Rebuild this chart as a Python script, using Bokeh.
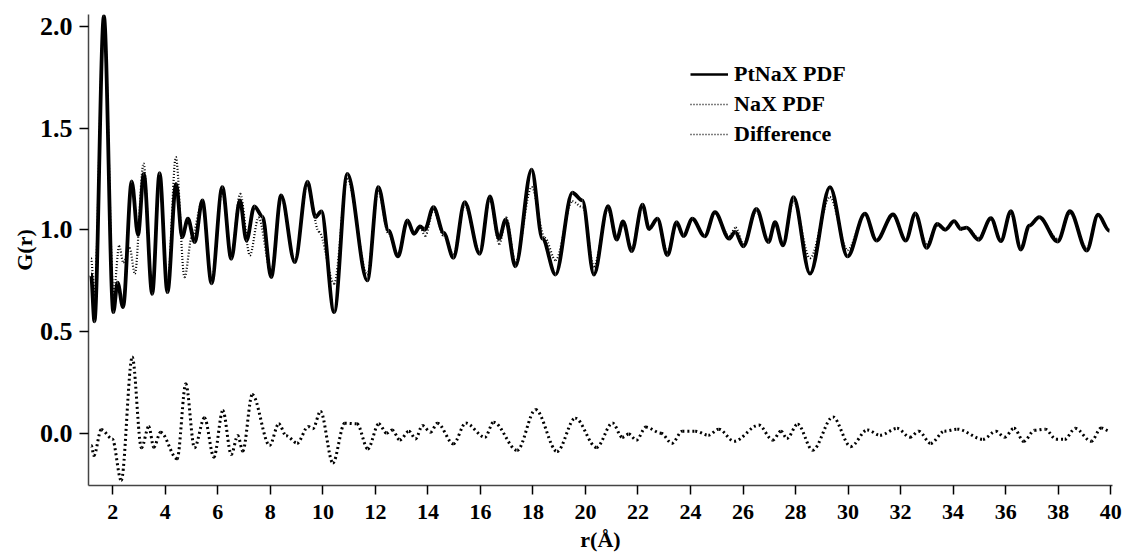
from bokeh.plotting import figure
from bokeh.models import (ColumnDataSource, Legend, LegendItem, FixedTicker,
                          PrintfTickFormatter, Range1d)
from bokeh.embed import file_html
from bokeh.resources import INLINE

# ---------------- data ----------------
ptnax_r = [1.17, 1.30, 1.66, 2.02, 2.18, 2.39, 2.72, 2.96, 3.18, 3.50, 3.78, 4.08,
           4.41, 4.64, 4.86, 5.12, 5.41, 5.76, 6.17, 6.51, 6.84, 7.09, 7.39, 7.70,
           8.03, 8.41, 8.93, 9.41, 9.72, 9.94, 10.43, 10.93, 11.69, 12.11, 12.50,
           12.86, 13.22, 13.47, 13.70, 13.88, 14.21, 14.60, 14.97, 15.40, 15.97,
           16.36, 16.71, 16.96, 17.33, 17.95, 18.36, 18.86, 19.50, 19.88, 20.32,
           20.86, 21.19, 21.43, 21.76, 22.17, 22.42, 22.74, 23.12, 23.47, 23.73,
           24.07, 24.54, 24.93, 25.47, 25.70, 26.01, 26.51, 26.97, 27.22, 27.52,
           27.92, 28.55, 29.31, 29.98, 30.64, 31.08, 31.71, 32.20, 32.56, 32.99,
           33.40, 33.70, 34.04, 34.29, 34.51, 34.97, 35.44, 35.82, 36.20, 36.58,
           36.90, 37.28, 37.98, 38.45, 39.09, 39.52, 39.95]
ptnax_g = [0.78, 0.55, 2.05, 0.595, 0.74, 0.62, 1.238, 0.975, 1.275, 0.685, 1.278, 0.693,
           1.226, 0.964, 1.054, 0.939, 1.144, 0.737, 1.21, 0.857, 1.144, 0.947, 1.115, 1.065,
           0.767, 1.169, 0.841, 1.236, 1.062, 1.09, 0.595, 1.275, 0.751, 1.21, 0.995,
           0.869, 1.046, 0.98, 1.016, 1.0, 1.111, 0.985, 0.862, 1.136, 0.882,
           1.164, 0.956, 1.05, 0.82, 1.295, 0.956, 0.78, 1.182, 1.144, 0.78,
           1.116, 0.952, 1.041, 0.895, 1.124, 1.005, 1.054, 0.874, 1.037, 0.969,
           1.054, 0.967, 1.087, 0.956, 0.99, 0.918, 1.103, 0.939, 1.037, 0.923,
           1.16, 0.784, 1.21, 0.869, 1.079, 0.947, 1.075, 0.947, 1.08, 0.911,
           1.029, 1.0, 1.042, 1.005, 1.01, 0.951, 1.057, 0.944, 1.091, 0.903,
           1.02, 1.062, 0.942, 1.091, 0.898, 1.074, 0.995]

nax_r = [1.17, 1.30, 1.66, 2.03, 2.24, 2.40, 2.64, 2.84, 3.17, 3.50, 3.78, 4.08,
         4.40, 4.73, 5.02, 5.41, 5.76, 6.17, 6.51, 6.85, 7.22, 7.55, 8.03, 8.41,
         8.93, 9.41, 9.85, 10.43, 10.93, 11.69, 12.11, 12.50, 12.86, 13.22, 13.47,
         13.70, 13.90, 14.21, 14.60, 14.97, 15.40, 15.97, 16.36, 16.72, 16.98,
         17.33, 17.95, 18.45, 18.86, 19.50, 19.90, 20.32, 20.86, 21.19, 21.43,
         21.76, 22.17, 22.42, 22.74, 23.12, 23.47, 23.73, 24.07, 24.54, 24.93,
         25.47, 25.72, 26.01, 26.51, 26.97, 27.22, 27.52, 27.92, 28.55, 29.31,
         29.98, 30.64, 31.08, 31.71, 32.20, 32.56, 32.99, 33.40, 33.70, 34.04,
         34.29, 34.51, 34.97, 35.44, 35.82, 36.20, 36.58, 36.90, 37.28, 37.98,
         38.45, 39.09, 39.52, 39.95]
nax_g = [0.86, 0.68, 2.04, 0.68, 0.92, 0.84, 0.91, 0.785, 1.325, 0.70, 1.26, 0.71,
         1.357, 0.767, 0.97, 1.14, 0.75, 1.19, 0.87, 1.177, 0.874, 1.06, 0.79, 1.16,
         0.85, 1.22, 0.99, 0.735, 1.25, 0.78, 1.19, 0.98, 0.88, 1.04, 0.98,
         1.01, 0.97, 1.10, 0.97, 0.88, 1.12, 0.89, 1.15, 0.93, 1.06,
         0.84, 1.21, 0.96, 0.85, 1.14, 1.11, 0.82, 1.10, 0.95, 1.03,
         0.91, 1.11, 1.0, 1.05, 0.89, 1.03, 0.97, 1.05, 0.97, 1.08,
         0.97, 1.01, 0.93, 1.09, 0.95, 1.03, 0.93, 1.14, 0.86, 1.16,
         0.90, 1.07, 0.95, 1.07, 0.95, 1.07, 0.93, 1.02, 1.0, 1.04,
         1.0, 1.01, 0.96, 1.05, 0.95, 1.08, 0.91, 1.02, 1.06, 0.955,
         1.08, 0.91, 1.07, 1.0]

diff_r = [1.18, 1.28, 1.56, 1.98, 2.32, 2.74, 3.09, 3.37, 3.56, 3.82, 4.45, 4.78,
          5.11, 5.49, 5.85, 6.19, 6.51, 6.76, 6.95, 7.31, 7.97, 8.32, 8.60, 9.02,
          9.44, 9.62, 9.91, 10.38, 10.83, 11.30, 11.71, 12.13, 12.43, 12.64, 12.93,
          13.28, 13.53, 13.79, 14.10, 14.36, 14.97, 15.44, 16.17, 16.50, 17.40,
          18.10, 18.92, 19.61, 20.42, 21.03, 21.40, 21.65, 21.94, 22.30, 22.88,
          23.29, 23.69, 24.18, 24.68, 25.08, 25.66, 26.60, 27.13, 27.45, 27.67,
          28.08, 28.65, 29.42, 30.10, 30.73, 31.22, 31.87, 32.36, 32.69, 33.15,
          33.67, 34.16, 35.14, 35.63, 35.96, 36.32, 36.69, 37.10, 37.51, 37.92,
          38.25, 38.65, 39.26, 39.64, 39.96]
diff_g = [-0.06, -0.11, 0.018, -0.028, -0.232, 0.374, -0.072, 0.033, -0.069, 0.005, -0.126, 0.243,
          -0.072, 0.076, -0.118, 0.112, -0.105, -0.011, -0.088, 0.19, -0.06, 0.046, -0.012, -0.049,
          0.033, 0.022, 0.107, -0.146, 0.049, 0.046, -0.077, 0.046, 0.0, 0.016, -0.033,
          0.01, -0.028, 0.038, 0.005, 0.049, -0.052, 0.05, -0.02, 0.054, -0.084,
          0.116, -0.09, 0.074, -0.07, 0.05, -0.02, -0.004, -0.034, 0.03, 0.0,
          -0.05, 0.01, 0.01, -0.01, 0.02, -0.04, 0.04, -0.034, 0.01, -0.026,
          0.044, -0.084, 0.08, -0.066, 0.016, -0.01, 0.024, -0.02, 0.01, -0.05,
          0.01, 0.02, -0.03, 0.01, -0.02, 0.024, -0.04, 0.014, 0.02, -0.03,
          -0.03, 0.024, -0.04, 0.026, 0.01]

x_ticks = [2, 4, 6, 8, 10, 12, 14, 16, 18, 20, 22, 24, 26, 28, 30, 32, 34, 36, 38, 40]
y_ticks = [0.0, 0.5, 1.0, 1.5, 2.0]
series_labels = ["PtNaX PDF", "NaX PDF", "Difference"]

FONT = "Liberation Serif"

p = figure(width=1122, height=559, output_backend="svg", toolbar_location=None,
           x_range=Range1d(1.074, 40.07), y_range=Range1d(-0.257, 2.058),
           min_border_left=88, min_border_right=10, min_border_top=14,
           min_border_bottom=74)
p.outline_line_color = None
p.grid.grid_line_color = None
p.background_fill_color = "white"
p.border_fill_color = "white"


def smooth_curve(xs, ys, **kw):
    """Draw a smooth curve through the read points (horizontal tangents at nodes)."""
    x0, x1 = xs[:-1], xs[1:]
    y0, y1 = ys[:-1], ys[1:]
    cx0 = [a + (b - a) / 3.0 for a, b in zip(x0, x1)]
    cx1 = [b - (b - a) / 3.0 for a, b in zip(x0, x1)]
    src = ColumnDataSource(dict(x0=x0, y0=y0, x1=x1, y1=y1,
                                cx0=cx0, cy0=y0, cx1=cx1, cy1=y1))
    return p.bezier(x0="x0", y0="y0", x1="x1", y1="y1", cx0="cx0", cy0="cy0",
                    cx1="cx1", cy1="cy1", source=src, **kw)


smooth_curve(diff_r, diff_g, line_color="black", line_width=3, line_dash="2 3")
smooth_curve(nax_r, nax_g, line_color="black", line_width=2.2, line_dash="1 2")
smooth_curve(ptnax_r, ptnax_g, line_color="black", line_width=3.8)

# legend-only renderers (placed outside the visible x range)
l1 = p.line(x=[0.0, 0.5], y=[-1.0, -1.0], line_color="black", line_width=2.5)
l2 = p.line(x=[0.0, 0.5], y=[-1.0, -1.0], line_color="black", line_width=1.6,
            line_dash="1 2")
l3 = p.line(x=[0.0, 0.5], y=[-1.0, -1.0], line_color="black", line_width=1.6,
            line_dash="1 2")
legend = Legend(items=[LegendItem(label=series_labels[0], renderers=[l1]),
                       LegendItem(label=series_labels[1], renderers=[l2]),
                       LegendItem(label=series_labels[2], renderers=[l3])],
                location=(602, 336), label_text_font=FONT,
                label_text_font_style="bold", label_text_font_size="22px",
                label_text_color="black",
                glyph_width=38, glyph_height=30, label_height=30, spacing=0,
                padding=0, margin=0, border_line_color=None,
                background_fill_alpha=0, label_standoff=6)
p.add_layout(legend)

# axes
for ax in (p.xaxis[0], p.yaxis[0]):
    ax.axis_line_color = "#444444"
    ax.axis_line_width = 1.5
    ax.major_tick_line_color = "black"
    ax.major_tick_line_width = 1.5
    ax.major_tick_out = 9
    ax.major_tick_in = 0
    ax.minor_tick_line_color = None
    ax.major_label_text_font = FONT
    ax.major_label_text_font_style = "bold"
    ax.major_label_text_color = "black"
    ax.axis_label_text_font = FONT
    ax.axis_label_text_font_style = "bold"
    ax.axis_label_text_font_size = "22px"
    ax.axis_label_text_color = "black"

p.xaxis.ticker = FixedTicker(ticks=x_ticks)
p.yaxis.ticker = FixedTicker(ticks=y_ticks)
p.yaxis.formatter = PrintfTickFormatter(format="%.1f")
p.xaxis.major_label_text_font_size = "22px"
p.yaxis.major_label_text_font_size = "26px"
p.xaxis.major_label_standoff = 10
p.yaxis.major_label_standoff = 7
p.xaxis.axis_label = "r(Å)"
p.yaxis.axis_label = "G(r)"
p.xaxis.axis_label_standoff = 5
p.yaxis.axis_label_standoff = 0

open("out.html", "w").write(file_html(p, INLINE))
